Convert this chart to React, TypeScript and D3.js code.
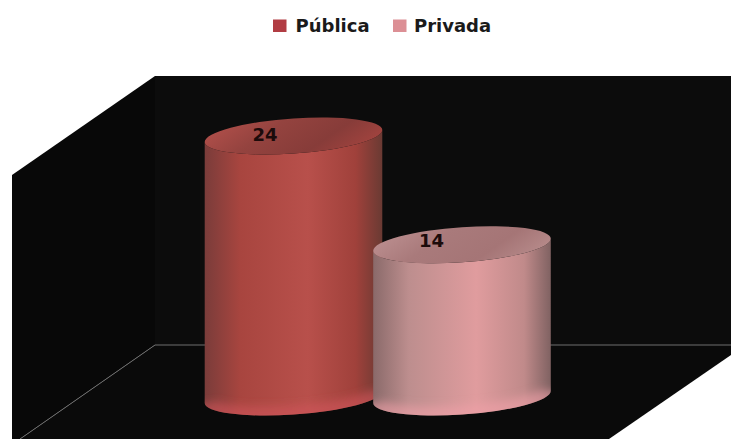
import React from "react";
import * as d3 from "d3";

const categories = ["Pública", "Privada"];
const values = [24, 14];
const legendColors = ["#b13c43", "#dc8f95"];
const sideStops = [
  ["#7a3c3a", "#a8453f", "#b8504b", "#a0413b", "#6a3a33"],
  ["#8a6a6a", "#bd8e8e", "#e09c9e", "#c08a8a", "#806262"],
];
const topStops = [
  ["#b3504b", "#94433f", "#873c39", "#a4443f"],
  ["#bd9091", "#a97a7b", "#a57576", "#b88c8c"],
];
const bottomGlow = ["#d0555c", "#f0a0a8"];

const WIDTH = 731;
const HEIGHT = 439;
const RX = 89;
const RY = 17.5;
const TILT = -4; // degrees: the right side of each ellipse sits higher

const x = d3.scalePoint<string>().domain(categories).range([293.5, 462]);
const y = d3.scaleLinear().domain([0, 24]).range([397, 136]);

// Left-most and right-most points of the tilted ellipse, relative to its centre.
const t = (TILT * Math.PI) / 180;
const halfW = Math.sqrt(RX * RX * Math.cos(t) ** 2 + RY * RY * Math.sin(t) ** 2);
const edgeDy = ((RX * RX - RY * RY) * Math.sin(t) * Math.cos(t)) / halfW;

function ellipsePath(cx: number, cy: number) {
  const lx = cx - halfW, ly = cy - edgeDy, rx = cx + halfW, ry = cy + edgeDy;
  return `M${lx},${ly}A${RX},${RY} ${TILT} 1 1 ${rx},${ry}A${RX},${RY} ${TILT} 1 1 ${lx},${ly}Z`;
}

function sidePath(cx: number, topY: number, baseY: number) {
  const lx = cx - halfW, rx = cx + halfW;
  return (
    `M${lx},${topY - edgeDy}L${lx},${baseY - edgeDy}` +
    `A${RX},${RY} ${TILT} 0 0 ${rx},${baseY + edgeDy}` +
    `L${rx},${topY + edgeDy}` +
    `A${RX},${RY} ${TILT} 0 1 ${lx},${topY - edgeDy}Z`
  );
}

// Front rim of the base, used for the soft reflected light near the floor.
function rimPath(cx: number, baseY: number) {
  const lx = cx - halfW, rx = cx + halfW;
  return `M${lx},${baseY - edgeDy}A${RX},${RY} ${TILT} 0 0 ${rx},${baseY + edgeDy}`;
}

const legendX = [273, 393];
const legendTextX = [295.5, 414];
const labelOffset = [-28.5, -30.5];
const labelDy = [5, 2];
const font = "'DejaVu Sans', Verdana, sans-serif";

export default function App() {
  const base = y(0);
  const floorY = 345;
  return (
    <svg
      width={WIDTH}
      height={HEIGHT}
      viewBox={`0 0 ${WIDTH} ${HEIGHT}`}
      style={{ position: "absolute", left: 0, top: 0, background: "#fff" }}
    >
      <defs>
        <filter id="rimBlur" x="-10%" y="-100%" width="120%" height="300%">
          <feGaussianBlur stdDeviation="4" />
        </filter>
        {categories.map((c, i) => (
          <React.Fragment key={c}>
            <linearGradient id={`side${i}`} x1="0" x2="1" y1="0" y2="0">
              {sideStops[i].map((col, k) => (
                <stop key={k} offset={[0, 0.2, 0.58, 0.85, 1][k]} stopColor={col} />
              ))}
            </linearGradient>
            <linearGradient id={`top${i}`} x1="0" x2="1" y1="0.3" y2="0.6">
              {topStops[i].map((col, k) => (
                <stop key={k} offset={[0, 0.35, 0.7, 1][k]} stopColor={col} />
              ))}
            </linearGradient>
            <clipPath id={`body${i}`}>
              <path d={sidePath(x(c) as number, y(values[i]), base)} />
            </clipPath>
          </React.Fragment>
        ))}
      </defs>

      {/* plot box: back wall, side wall and floor */}
      <polygon points="155,76 731,76 731,345 155,345" fill="#0c0c0c" />
      <polygon points="12,175 155,76 155,345 20,439 12,439" fill="#080808" />
      <polygon points={`155,${floorY} 731,${floorY} 731,355 609,439 20,439`} fill="#0a0a0a" />
      <line x1={155} y1={floorY} x2={731} y2={floorY} stroke="#6e6e6e" strokeWidth={1} />
      <line x1={155} y1={floorY} x2={20} y2={439} stroke="#6e6e6e" strokeWidth={1} />

      {/* cylinders */}
      {categories.map((c, i) => {
        const cx = x(c) as number;
        const topY = y(values[i]);
        return (
          <g key={c}>
            <path d={sidePath(cx, topY, base)} fill={`url(#side${i})`} />
            <g clipPath={`url(#body${i})`}>
              <path
                d={rimPath(cx, base)}
                fill="none"
                stroke={bottomGlow[i]}
                strokeWidth={18}
                strokeOpacity={0.6}
                filter="url(#rimBlur)"
              />
            </g>
            <path d={ellipsePath(cx, topY)} fill={`url(#top${i})`} />
            <text
              x={cx + labelOffset[i]}
              y={topY + labelDy[i]}
              textAnchor="middle"
              fontFamily={font}
              fontWeight="bold"
              fontSize={18}
              fill="#1c0b0b"
            >
              {values[i]}
            </text>
          </g>
        );
      })}

      {/* legend */}
      {categories.map((c, i) => (
        <g key={c}>
          <rect x={legendX[i]} y={19.5} width={13.5} height={12.5} fill={legendColors[i]} />
          <text
            x={legendTextX[i]}
            y={32}
            fontFamily={font}
            fontWeight="bold"
            fontSize={18}
            fill="#1a1a1a"
          >
            {c}
          </text>
        </g>
      ))}
    </svg>
  );
}
